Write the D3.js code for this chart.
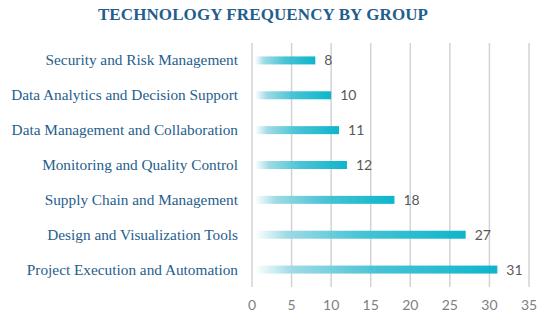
<!DOCTYPE html>
<html><head><meta charset="utf-8">
<script src="https://cdn.jsdelivr.net/npm/d3@7"></script>
<style>body{margin:0;background:#fff}svg{display:block}</style>
</head><body>
<svg id="c" width="550" height="321"></svg>
<script>
const title = "TECHNOLOGY FREQUENCY BY GROUP";
const categories = ["Security and Risk Management","Data Analytics and Decision Support","Data Management and Collaboration","Monitoring and Quality Control","Supply Chain and Management","Design and Visualization Tools","Project Execution and Automation"];
const values = [8,10,11,12,18,27,31];
const ticks = [0,5,10,15,20,25,30,35];

const svg = d3.select("#c");
const m = {left:252, right:529, top:43, bottom:287};
const x = d3.scaleLinear().domain([0,35]).range([m.left, m.right]);
const y = d3.scaleBand().domain(categories).range([m.top, m.bottom]);

const defs = svg.append("defs");
const g = defs.append("linearGradient").attr("id","bg").attr("x1","0").attr("x2","1").attr("y1","0").attr("y2","0");
g.append("stop").attr("offset","0").attr("stop-color","#ffffff");
g.append("stop").attr("offset","0.15").attr("stop-color","#9ad9e4");
g.append("stop").attr("offset","0.5").attr("stop-color","#3fc0d3");
g.append("stop").attr("offset","1").attr("stop-color","#00b2c9");

svg.append("text").attr("x",263).attr("y",20).attr("text-anchor","middle")
  .attr("font-family","Liberation Serif, serif").attr("font-weight","bold").attr("font-size",17)
  .attr("letter-spacing","0.1px").attr("fill","#1f5e8d").text(title);

svg.append("g").selectAll("line").data(ticks).join("line")
  .attr("x1",d=>x(d)).attr("x2",d=>x(d)).attr("y1",m.top).attr("y2",m.bottom)
  .attr("stroke","#d3d3d3").attr("stroke-width",1.5);

svg.append("g").selectAll("rect").data(values).join("rect")
  .attr("x",x(0)+3).attr("width",(d)=>x(d)-x(0)-3)
  .attr("y",(d,i)=>y(categories[i])+y.bandwidth()/2-4).attr("height",8)
  .attr("fill","url(#bg)").attr("opacity",0.95);

svg.append("g").selectAll("text").data(values).join("text")
  .attr("x",d=>x(d)+9).attr("y",(d,i)=>y(categories[i])+y.bandwidth()/2+5)
  .attr("font-family","Lato, sans-serif").attr("font-size",14)
  .attr("fill","#595959").text(d=>d);

svg.append("g").selectAll("text").data(categories).join("text")
  .attr("x",238).attr("y",d=>y(d)+y.bandwidth()/2+5).attr("text-anchor","end")
  .attr("font-family","Liberation Serif, serif").attr("font-size",15.3)
  .attr("fill","#1f5e8d").text(d=>d);

svg.append("g").selectAll("text").data(ticks).join("text")
  .attr("x",d=>x(d)).attr("y",310).attr("text-anchor","middle")
  .attr("font-family","Lato, sans-serif").attr("font-size",14)
  .attr("fill","#7f7f7f").text(d=>d);
</script>
</body></html>
